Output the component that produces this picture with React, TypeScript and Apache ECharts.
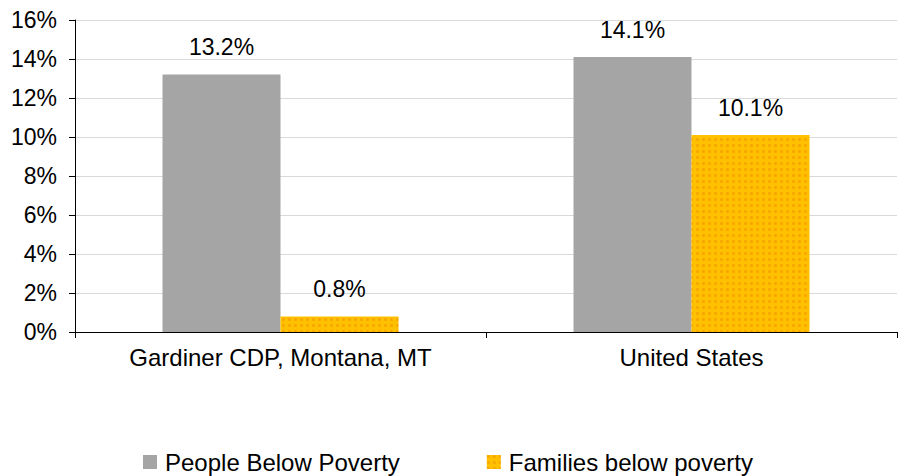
import React, { useEffect, useRef } from "react";
import * as echarts from "echarts";

const categories = ["Gardiner CDP, Montana, MT", "United States"];
const peopleBelowPoverty = [13.2, 14.1];
const familiesBelowPoverty = [0.8, 10.1];
const seriesNames = ["People Below Poverty", "Families below poverty"];

const FONT = "'Liberation Sans', Arial, sans-serif";

export default function App() {
  const ref = useRef<HTMLDivElement>(null);
  useEffect(() => {
    if (!ref.current) return;
    const chart = echarts.init(ref.current, undefined, { renderer: "svg" });
    const labelCfg = {
      show: true,
      position: "top",
      distance: 16,
      color: "#000",
      fontSize: 23,
      fontFamily: FONT,
      formatter: (p: any) => `${Number(p.value).toFixed(1)}%`,
    };
    chart.setOption({
      animation: false,
      textStyle: { fontFamily: FONT },
      grid: { left: 75, right: 8, top: 20, bottom: 144, containLabel: false },
      legend: {
        top: 450,
        left: 143,
        itemWidth: 14,
        itemHeight: 14,
        itemGap: 87,
        padding: 0,
        icon: "rect",
        textStyle: { fontSize: 24, color: "#000", fontFamily: FONT, padding: [0, 0, 0, 3] },
        data: seriesNames,
      },
      xAxis: {
        type: "category",
        data: categories,
        axisLine: { lineStyle: { color: "#000", width: 1 } },
        axisTick: { show: true, length: 6, lineStyle: { color: "#000" } },
        axisLabel: { fontSize: 24, color: "#000", margin: 13, fontFamily: FONT },
      },
      yAxis: {
        type: "value",
        min: 0,
        max: 16,
        interval: 2,
        axisLine: { show: true, lineStyle: { color: "#000", width: 1 } },
        axisTick: { show: true, length: 6, lineStyle: { color: "#000" } },
        axisLabel: { fontSize: 23, color: "#000", margin: 18, formatter: "{value}%", fontFamily: FONT },
        splitLine: { show: true, lineStyle: { color: "#d9d9d9", width: 1 } },
      },
      series: [
        {
          name: seriesNames[0],
          type: "bar",
          data: peopleBelowPoverty,
          barWidth: 118,
          barGap: "0%",
          itemStyle: { color: "#a5a5a5" },
          label: labelCfg,
        },
        {
          name: seriesNames[1],
          type: "bar",
          data: familiesBelowPoverty,
          barWidth: 118,
          barGap: "0%",
          itemStyle: {
            color: "#ffc000",
            decal: {
              symbol: "rect",
              symbolSize: 0.8,
              dashArrayX: [3, 3],
              dashArrayY: [3, 3],
              color: "rgba(240,140,0,0.6)",
              rotation: 0,
            },
          },
          label: labelCfg,
        },
      ],
    });
    return () => chart.dispose();
  }, []);
  return (
    <div
      ref={ref}
      style={{ position: "fixed", left: 0, top: 0, width: 905, height: 476, background: "#fff" }}
    />
  );
}
